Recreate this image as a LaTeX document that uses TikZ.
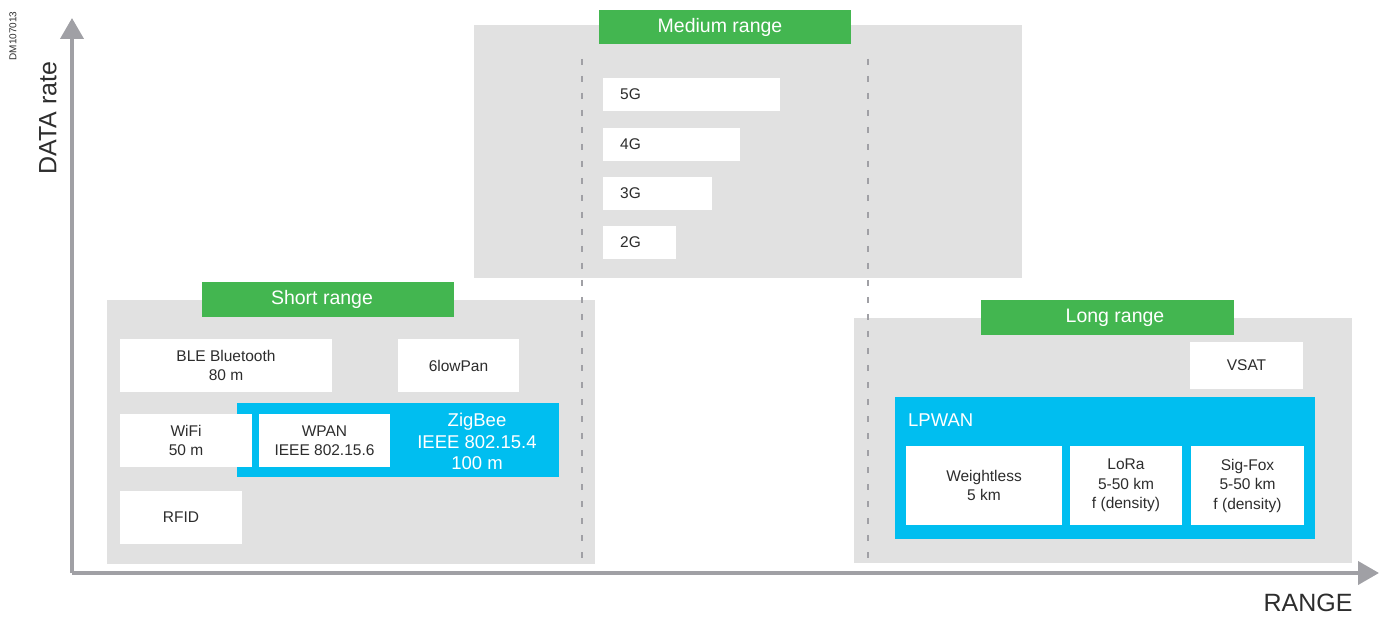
\documentclass[tikz,border=0pt]{standalone}
\usepackage{fontspec}
\setmainfont{Liberation Sans}
\usepackage{tikz}
\usetikzlibrary{arrows.meta}
\usepackage{xcolor}
\definecolor{dmgray}{RGB}{225,225,225}
\definecolor{dmaxis}{RGB}{160,160,165}
\definecolor{dmgreen}{RGB}{67,182,80}
\definecolor{dmblue}{RGB}{0,190,240}
\definecolor{dmtext}{RGB}{45,45,45}
\tikzstyle{axis} = [line width=4pt,-{Triangle[length=21pt,width=23pt]},color=dmaxis]
\tikzstyle{rangeline} = [line width=2.5pt,dash pattern=on 6pt off 11pt,color=dmaxis]
\tikzstyle{boxtext} = [text=dmtext,align=center,inner sep=0pt,font=\fontsize{15.5}{19.5}\selectfont]
\tikzstyle{headtext} = [text=white,inner sep=0pt,font=\fontsize{19.5}{22}\selectfont]
\tikzstyle{bluetext} = [text=white,align=center,inner sep=0pt,font=\fontsize{18.5}{21.5}\selectfont]

\begin{document}
\begin{tikzpicture}[x=1pt, y=-1pt]
\useasboundingbox (0,0) rectangle (1386,617);

% axes
\coordinate (origin) at (72,573);
\coordinate (ytip) at (72,18);
\coordinate (xtip) at (1379,573);
\draw[axis] (origin) -- (ytip);
\draw[axis] (origin) -- (xtip);
\node[rotate=90, text=dmtext, font=\fontsize{25}{30}\selectfont] (ylabel) at (48,118) {DATA rate};
\node[text=dmtext, font=\fontsize{25}{30}\selectfont] (xlabel) at (1308,603) {RANGE};
\node[rotate=90, text=dmtext, font=\fontsize{10}{12}\selectfont] (docref) at (13,36) {DM107013};

% range panels
\fill[dmgray] (107,300) rectangle (595,564);
\fill[dmgray] (474,25) rectangle (1022,278);
\fill[dmgray] (854,318) rectangle (1352,563);

% range limits
\coordinate (limitAtop) at (582,59);
\coordinate (limitAbot) at (582,568);
\coordinate (limitBtop) at (868,59);
\coordinate (limitBbot) at (868,568);
\draw[rangeline] (limitAtop) -- (limitAbot);
\draw[rangeline] (limitBtop) -- (limitBbot);

% short range
\fill[dmgreen] (202,282) rectangle (454,317);
\node[headtext] (short) at (322,299.5) {Short range};

\fill[white] (120,339) rectangle (332,392);
\node[boxtext] (ble) at (226,365.5) {BLE Bluetooth\\80 m};

\fill[white] (398,339) rectangle (519,392);
\node[boxtext] (sixlowpan) at (458.5,365.5) {6lowPan};

\fill[dmblue] (237,403) rectangle (559,477);
\node[bluetext] (zigbee) at (477,441.5) {ZigBee\\IEEE 802.15.4\\100 m};

\fill[white] (120,414) rectangle (252,467);
\node[boxtext] (wifi) at (186,440.5) {WiFi\\50 m};

\fill[white] (259,414) rectangle (390,467);
\node[boxtext] (wpan) at (324.5,440.5) {WPAN\\IEEE 802.15.6};

\fill[white] (120,491) rectangle (242,544);
\node[boxtext] (rfid) at (181,517.5) {RFID};

% medium range
\fill[dmgreen] (599,10) rectangle (851,44);
\node[headtext] (medium) at (720,27) {Medium range};

\fill[white] (603,78) rectangle (780,111);
\node[boxtext, anchor=west] (fiveg) at (620,94.5) {5G};

\fill[white] (603,128) rectangle (740,161);
\node[boxtext, anchor=west] (fourg) at (620,144.5) {4G};

\fill[white] (603,177) rectangle (712,210);
\node[boxtext, anchor=west] (threeg) at (620,193.5) {3G};

\fill[white] (603,226) rectangle (676,259);
\node[boxtext, anchor=west] (twog) at (620,242.5) {2G};

% long range
\fill[dmgreen] (981,300) rectangle (1234,335);
\node[headtext] (long) at (1115,317.5) {Long range};

\fill[white] (1190,342) rectangle (1303,389);
\node[boxtext] (vsat) at (1246.5,365.5) {VSAT};

\fill[dmblue] (895,397) rectangle (1315,539);
\node[bluetext, anchor=west] (lpwan) at (908,420) {LPWAN};

\fill[white] (906,446) rectangle (1062,525);
\node[boxtext] (weightless) at (984,485.5) {Weightless\\5 km};

\fill[white] (1070,446) rectangle (1182,525);
\node[boxtext] (lora) at (1126,485.5) {LoRa\\5-50 km\\f (density)};

\fill[white] (1191,446) rectangle (1304,525);
\node[boxtext] (sigfox) at (1247.5,485.5) {Sig-Fox\\5-50 km\\f (density)};
\end{tikzpicture}
\end{document}
